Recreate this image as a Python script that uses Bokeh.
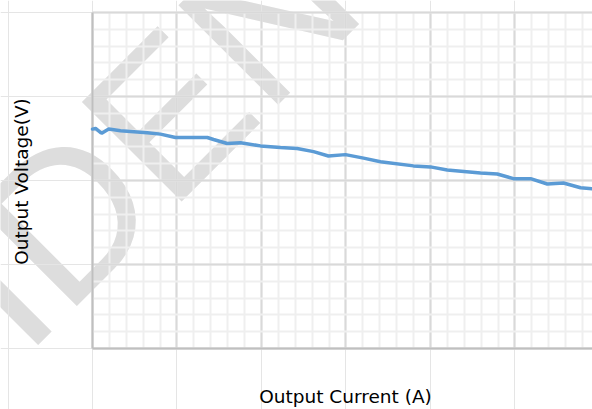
from bokeh.plotting import figure
from bokeh.models import Range1d, SingleIntervalTicker, Grid, Label
from bokeh.core.properties import value
from bokeh.embed import file_html
from bokeh.resources import INLINE

# Output voltage vs. load current
current_a = [0.000, 0.018, 0.047, 0.057, 0.096, 0.166, 0.324, 0.402, 0.491,
             0.679, 0.716, 0.797, 0.876, 0.994, 1.112, 1.211, 1.308, 1.396,
             1.497, 1.604, 1.704, 1.899, 2.000, 2.099, 2.296, 2.395, 2.491,
             2.592, 2.691, 2.787, 2.888, 2.959, 3.000]
voltage_v = [5.306, 5.310, 5.286, 5.283, 5.306, 5.296, 5.284, 5.276, 5.256,
             5.256, 5.244, 5.220, 5.225, 5.206, 5.196, 5.190, 5.172, 5.146,
             5.154, 5.133, 5.112, 5.087, 5.081, 5.063, 5.045, 5.039, 5.011,
             5.011, 4.979, 4.985, 4.957, 4.951, 4.947]

x_label = "Output Current (A)"
y_label = "Output Voltage(V)"
watermark_text = "CONFIDENTIAL"

# visible data window and where it sits on the 592x409 canvas
W, H = 592, 409
x_lo, x_hi = 0.0, 2.9586
y_lo, y_hi = 4.0, 6.0
area_left, area_right, area_top, area_bottom = 92, 592, 12, 348
kx = (x_hi - x_lo) / (area_right - area_left)
ky = (y_hi - y_lo) / (area_bottom - area_top)


def px_to_data(px, py):
    return x_lo + (px - area_left) * kx, y_lo + (area_bottom - py) * ky


p = figure(width=W, height=H, output_backend="svg", toolbar_location=None,
           x_range=Range1d(x_lo - area_left * kx, x_hi + (W - area_right) * kx),
           y_range=Range1d(y_lo - (H - area_bottom) * ky, y_hi + area_top * ky),
           x_axis_location=None, y_axis_location=None, min_border=0)
p.outline_line_color = None
p.background_fill_color = "white"
p.border_fill_color = "white"

# diagonal watermark, painted underneath the grid
wm_x, wm_y = px_to_data(-437, 718)
p.text(x=[wm_x], y=[wm_y], text=[watermark_text], angle=45, angle_units="deg",
       text_font=value("Liberation Sans"), text_font_size=value("205px"),
       text_color="#dddddd", text_align="left", text_baseline="alphabetic",
       level="image")

# major / minor grid confined to the plotting area
for dim, bnds, cross in ((0, (x_lo, x_hi + 1), (y_lo, y_hi)),
                         (1, (y_lo, y_hi), (x_lo, x_hi + 1))):
    g = Grid(dimension=dim,
             ticker=SingleIntervalTicker(interval=0.5, num_minor_ticks=5),
             bounds=bnds, cross_bounds=cross,
             grid_line_color="#d9d9d9", grid_line_width=2,
             minor_grid_line_color="#efefef", minor_grid_line_width=2)
    p.add_layout(g, "center")

# left and bottom axis lines
p.segment(x0=[x_lo, x_lo], y0=[y_lo, y_lo], x1=[x_lo, x_hi + 1], y1=[y_hi, y_lo],
          line_color="#bfbfbf", line_width=2)

p.line(current_a, voltage_v, line_color="#5b9bd5", line_width=3.5,
       line_join="round", line_cap="round")

# axis titles
p.add_layout(Label(x=345, y=H - 396, x_units="screen", y_units="screen",
                   text=x_label, text_align="center", text_baseline="alphabetic",
                   text_font="DejaVu Sans", text_font_size="18.5px",
                   text_color="#000000"))
p.add_layout(Label(x=21, y=H - 181, x_units="screen", y_units="screen",
                   text=y_label, angle=90, angle_units="deg",
                   text_align="center", text_baseline="alphabetic",
                   text_font="DejaVu Sans", text_font_size="18.5px",
                   text_color="#000000"))

open("out.html", "w").write(file_html(p, INLINE))
